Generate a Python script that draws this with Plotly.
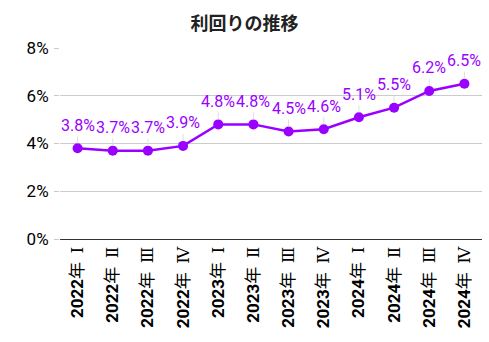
import plotly.graph_objects as go

categories = ["2022年 Ⅰ", "2022年 Ⅱ", "2022年 Ⅲ", "2022年 Ⅳ",
              "2023年 Ⅰ", "2023年 Ⅱ", "2023年 Ⅲ", "2023年 Ⅳ",
              "2024年 Ⅰ", "2024年 Ⅱ", "2024年 Ⅲ", "2024年 Ⅳ"]
yields = [3.8, 3.7, 3.7, 3.9, 4.8, 4.8, 4.5, 4.6, 5.1, 5.5, 6.2, 6.5]
y_ticks = [0, 2, 4, 6, 8]
y_tick_labels = ["0%", "2%", "4%", "6%", "8%"]

color = "#9900ff"
font_family = "Roboto, 'Noto Sans CJK JP', sans-serif"

# bold year digits, regular 年, serif-style quarter numeral
x_tick_text = []
for c in categories:
    year, rest = c.split("年", 1)
    x_tick_text.append(
        f"<b>{year}</b>年  <span style='font-family:\"DejaVu Serif\"'>{rest.strip()}</span>")

fig = go.Figure()
fig.add_trace(go.Scatter(
    x=categories, y=yields, mode="lines+markers",
    line=dict(color=color, width=2.5),
    marker=dict(color=color, size=10),
    hoverinfo="skip",
))

for c, v in zip(categories, yields):
    fig.add_annotation(
        x=c, y=v, text=f"{v:.1f}%", showarrow=True,
        arrowhead=0, arrowwidth=1, arrowcolor="#dddddd",
        ax=0, ay=-23, standoff=5,
        font=dict(family=font_family, size=16, color=color),
    )

fig.update_layout(
    width=489, height=342,
    margin=dict(l=60, r=7, t=48, b=103),
    paper_bgcolor="white", plot_bgcolor="white",
    showlegend=False,
    title=dict(text="<b>利回りの推移</b>", x=0.5, xanchor="center", y=0.93, yanchor="middle",
               font=dict(family=font_family, size=18, color="#222222")),
    font=dict(family=font_family),
)
fig.update_xaxes(
    range=[-0.5, len(categories) - 0.5],
    tickvals=categories, ticktext=x_tick_text,
    tickangle=-90, showgrid=False, ticks="",
    tickfont=dict(family=font_family, size=17, color="#000000"),
    showline=True, linecolor="#333333", linewidth=1,
)
fig.update_yaxes(
    range=[0, 8], tickvals=y_ticks, ticktext=y_tick_labels,
    gridcolor="#cccccc", gridwidth=1, zeroline=False,
    tickfont=dict(family=font_family, size=17, color="#000000"),
    ticks="outside", ticklen=5, tickcolor="#cccccc", ticklabelstandoff=2,
)

fig.write_html("out.html")
